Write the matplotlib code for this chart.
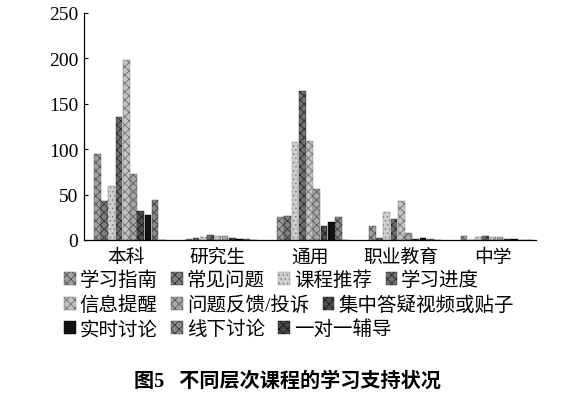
import numpy as np
import matplotlib
matplotlib.use('Agg')
import matplotlib.pyplot as plt

plt.rcParams['font.family'] = ['Liberation Serif', 'Noto Sans CJK SC']
plt.rcParams['hatch.linewidth'] = 0.6

#categories and series
categories = ['本科', '研究生', '通用', '职业教育', '中学']
series = ['学习指南', '常见问题', '课程推荐', '学习进度', '信息提醒',
          '问题反馈/投诉', '集中答疑视频或贴子', '实时讨论', '线下讨论', '一对一辅导']

xuexi_zhinan = [95, 1, 25, 15, 4]
changjian_wenti = [43, 2, 26, 2, 0]
kecheng_tuijian = [60, 3, 108, 31, 3]
xuexi_jindu = [136, 5, 164, 23, 4]
xinxi_tixing = [198, 4, 109, 43, 3]
wenti_fankui = [73, 4, 56, 8, 3]
jizhong_dayi = [32, 2, 15, 1, 1]
shishi_taolun = [27, 1, 20, 2, 1]
xianxia_taolun = [44, 1, 25, 1, 0]
yiduiyi_fudao = [0, 0, 0, 0, 0]

values = [xuexi_zhinan, changjian_wenti, kecheng_tuijian, xuexi_jindu, xinxi_tixing,
          wenti_fankui, jizhong_dayi, shishi_taolun, xianxia_taolun, yiduiyi_fudao]

faces = ['#a0a0a0', '#808080', '#d0d0d0', '#707070', '#c4c4c4',
         '#a8a8a8', '#505050', '#111111', '#8a8a8a', '#484848']
edges = ['#505050', '#303030', '#808080', '#2a2a2a', '#707070',
         '#5a5a5a', '#1a1a1a', '#000000', '#3a3a3a', '#1a1a1a']
hatches = ['xxxx', 'xxxx', '....', 'xxxx', 'xxxx',
           'xxxx', 'xxxx', '', 'xxxx', 'xxxx']

fig = plt.figure(figsize=(5.74, 4.02), dpi=100)
ax = fig.add_axes([84/574, 161/402, 452/574, 227/402])

x = np.arange(len(categories))
w = 0.079
bars = []
for i, (name, vals) in enumerate(zip(series, values)):
    b = ax.bar(x + (i - 4) * w, vals, width=w * 0.92, color=faces[i],
               edgecolor=edges[i], hatch=hatches[i], linewidth=0.3, label=name)
    bars.append(b)

ax.set_xlim(-0.46, 4.47)
ax.set_ylim(0, 250)
ax.set_yticks([0, 50, 100, 150, 200, 250])
ax.set_xticks(x)
ax.set_xticklabels(categories, fontsize=13.5)
ax.tick_params(axis='y', direction='in', length=3, labelsize=14, pad=4)
ax.tick_params(axis='x', length=0, pad=6)
ax.spines['top'].set_visible(False)
ax.spines['right'].set_visible(False)
ax.spines['left'].set_linewidth(0.9)
ax.spines['bottom'].set_linewidth(0.9)

#legend rows flow like text, so one legend per row
rows = [[0, 1, 2, 3], [4, 5, 6], [7, 8, 9]]
row_y = [281, 306, 330]
for r, yy in zip(rows, row_y):
    leg = fig.legend([bars[i] for i in r], [series[i] for i in r],
                     loc='center left', bbox_to_anchor=(64/574, 1 - yy/402),
                     ncol=len(r), frameon=False, fontsize=14,
                     handlelength=0.6, handleheight=0.6, handletextpad=0.2,
                     columnspacing=0.7, borderpad=0, borderaxespad=0)

fig.text(0.5, 1 - 382/402, '图5   不同层次课程的学习支持状况',
         ha='center', va='center', fontsize=14.5, fontweight='bold')

fig.savefig('out.png', dpi=100)
